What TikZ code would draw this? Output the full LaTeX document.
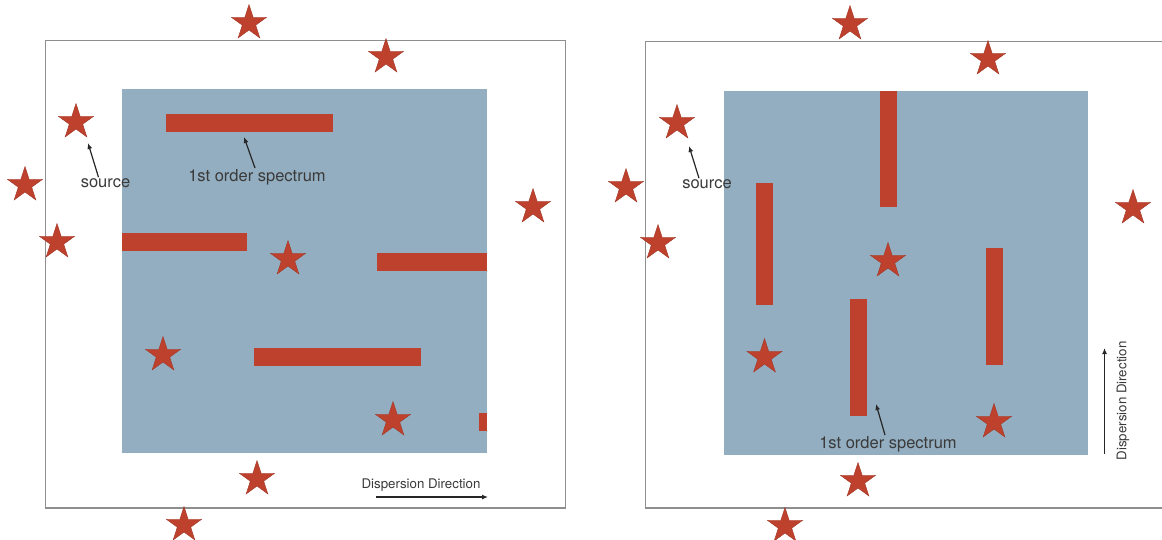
\documentclass[tikz,border=0pt]{standalone}
\usepackage{fontspec}
\setmainfont{TeX Gyre Heros}
\usepackage{xcolor}
\usetikzlibrary{arrows.meta,shapes.geometric}
\definecolor{skyfield}{HTML}{93AEC0}
\definecolor{specred}{HTML}{BE412D}
\definecolor{framegray}{HTML}{8E8E8E}
\definecolor{labelgray}{HTML}{3A3A3A}

\begin{document}
\begin{tikzpicture}[x=1pt, y=-1pt,
  starry/.style={star, star points=5, star point ratio=2.62, fill=specred, draw=specred!85!black, line width=0.4pt, inner sep=0pt, minimum size=37pt},
  hbar/.style={fill=specred, inner sep=0pt, minimum height=18pt},
  vbar/.style={fill=specred, inner sep=0pt, minimum width=17pt},
  lbl/.style={font=\fontsize{16.5}{18}\selectfont, text=labelgray, inner sep=1pt},
  dlbl/.style={font=\fontsize{13.3}{15}\selectfont, text=labelgray, inner sep=1pt},
  ptr/.style={-{Latex[length=6pt,width=5pt]}, line width=1.2pt, black!85},
  frm/.style={draw=framegray, line width=1.1pt}]
\useasboundingbox (0,0) rectangle (1162,539);

% left panel: dispersion along x
\draw[frm] (45.5,40.7) rectangle (565.5,508);
\fill[skyfield] (122,89) rectangle (487,453);
\node[hbar, minimum width=167.5pt] (bL1) at (249.25,122.5) {};
\node[hbar, minimum width=125pt] (bL2) at (184.5,241.5) {};
\node[hbar, minimum width=110pt] (bL3) at (432,261.5) {};
\node[hbar, minimum width=167pt] (bL4) at (337.5,356.5) {};
\node[hbar, minimum width=8pt] (bL5) at (483,421.5) {};
\foreach \n/\x/\y in {1/249/23, 2/386/57, 3/76/122, 4/25/185, 5/57/242, 6/533/207,
                      7/288/259, 8/163/355, 9/393/420, 10/257/479, 11/184/525}
  \node[starry] (sL\n) at (\x,\y) {};
\node[lbl] (srcL) at (105.5,183) {source};
\node[lbl] (specL) at (257,177) {1st order spectrum};
\node[dlbl] (dirL) at (421,485) {Dispersion Direction};
\coordinate (srcLtip) at (88,143);
\coordinate (specLtip) at (244,137);
\coordinate (dL0) at (376,497);
\coordinate (dL1) at (488,497);
\draw[ptr] ([xshift=-7pt]srcL.north) -- (srcLtip);
\draw[ptr] ([xshift=-2pt]specL.north) -- (specLtip);
\draw[ptr] (dL0) -- (dL1);

% right panel: dispersion along y
\draw[frm] (1163,41.7) -- (645.7,41.7) -- (645.7,508) -- (1163,508);
\fill[skyfield] (723.6,91) rectangle (1087.8,455);
\node[vbar, minimum height=116pt] (bR1) at (888,149) {};
\node[vbar, minimum height=122pt] (bR2) at (764.5,244) {};
\node[vbar, minimum height=117pt] (bR3) at (994,306.5) {};
\node[vbar, minimum height=117pt] (bR4) at (858,357.5) {};
\foreach \n/\x/\y in {1/850/24, 2/988/59, 3/677/123, 4/626/187, 5/658/243, 6/1133/208,
                      7/888/261, 8/764.5/357, 9/994/422, 10/858/481, 11/785/526}
  \node[starry] (sR\n) at (\x,\y) {};
\node[lbl] (srcR) at (707,184) {source};
\node[lbl] (specR) at (888,444) {1st order spectrum};
\node[dlbl, rotate=90] (dirR) at (1123,401) {Dispersion Direction};
\coordinate (srcRtip) at (689,146);
\coordinate (specRtip) at (876,404);
\coordinate (dR0) at (1104.5,454);
\coordinate (dR1) at (1104.5,348);
\draw[ptr] ([xshift=-8pt]srcR.north) -- (srcRtip);
\draw[ptr] ([xshift=-3pt]specR.north) -- (specRtip);
\draw[ptr] (dR0) -- (dR1);
\end{tikzpicture}
\end{document}
